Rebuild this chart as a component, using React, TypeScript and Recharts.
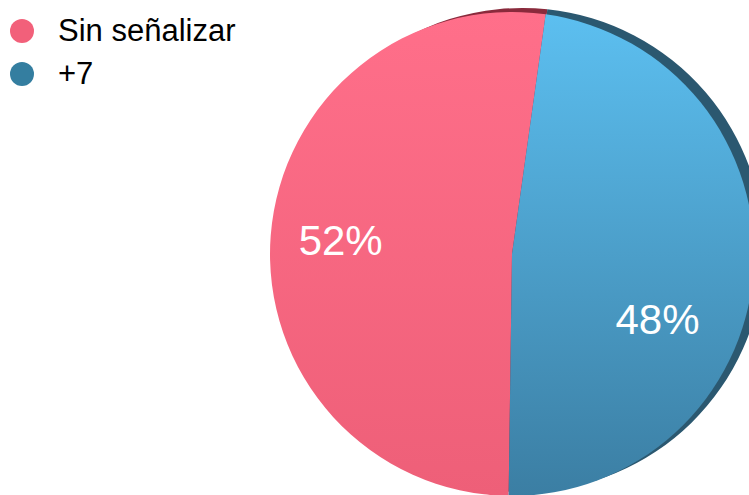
import { PieChart, Pie, Cell } from "recharts";

const categories = ["Sin señalizar", "+7"];
const values = [52, 48];
const colors = ["#f2607a", "#347ea0"];
const backColors = ["#8a2a3c", "#2b5870"];
const gradients = [
  ["#ff6f8a", "#ee5f78"],
  ["#5cbff0", "#3b7ea3"],
];
// label placement tweaks (radius factor, angle shift) for the tilted look
const labelShift = [
  { r: 0.71, a: 0 },
  { r: 0.66, a: -20 },
];

const data = categories.map((name, i) => ({ name, value: values[i] }));

const RAD = Math.PI / 180;
const FONT = "Liberation Sans, Arial, sans-serif";

const renderLabel = (props: any) => {
  const { cx, cy, midAngle, outerRadius, percent, index } = props;
  const s = labelShift[index];
  const ang = (midAngle + s.a) * RAD;
  const x = cx + outerRadius * s.r * Math.cos(ang);
  const y = cy - outerRadius * s.r * Math.sin(ang);
  return (
    <text
      x={x}
      y={y}
      fill="#ffffff"
      textAnchor="middle"
      dominantBaseline="central"
      fontSize={42}
      fontFamily={FONT}
    >
      {`${Math.round(percent * 100)}%`}
    </text>
  );
};

const LegendBox = () => (
  <div style={{ position: "absolute", left: 0, top: 9, fontFamily: FONT, fontSize: 31, color: "#000" }}>
    {categories.map((c, i) => (
      <div key={c} style={{ display: "flex", alignItems: "center", height: 43 }}>
        <span
          style={{
            display: "inline-block",
            width: 24,
            height: 24,
            borderRadius: 12,
            background: colors[i],
            marginLeft: 10,
            marginRight: 24,
          }}
        />
        <span>{c}</span>
      </div>
    ))}
  </div>
);

const App = () => {
  return (
    <div style={{ position: "absolute", left: 0, top: 0, width: 749, height: 495, background: "#fff" }}>
      <PieChart width={749} height={495} margin={{ top: 0, right: 0, bottom: 0, left: 0 }}>
        <defs>
          {gradients.map((g, i) => (
            <linearGradient key={i} id={`grad${i}`} x1="0" y1="0" x2="0" y2="1">
              <stop offset="0%" stopColor={g[0]} />
              <stop offset="100%" stopColor={g[1]} />
            </linearGradient>
          ))}
        </defs>
        <Pie
          data={data}
          dataKey="value"
          nameKey="name"
          cx={522}
          cy={250}
          outerRadius={242}
          startAngle={84}
          endAngle={444}
          stroke="none"
          legendType="none"
          isAnimationActive={false}
        >
          {data.map((d, i) => (
            <Cell key={d.name} fill={backColors[i]} />
          ))}
        </Pie>
        <Pie
          data={data}
          dataKey="value"
          nameKey="name"
          cx={512}
          cy={254}
          outerRadius={242}
          startAngle={82}
          endAngle={442}
          stroke="none"
          label={renderLabel}
          labelLine={false}
          isAnimationActive={false}
        >
          {data.map((d, i) => (
            <Cell key={d.name} fill={`url(#grad${i})`} />
          ))}
        </Pie>
      </PieChart>
      <LegendBox />
    </div>
  );
};

export default App;
